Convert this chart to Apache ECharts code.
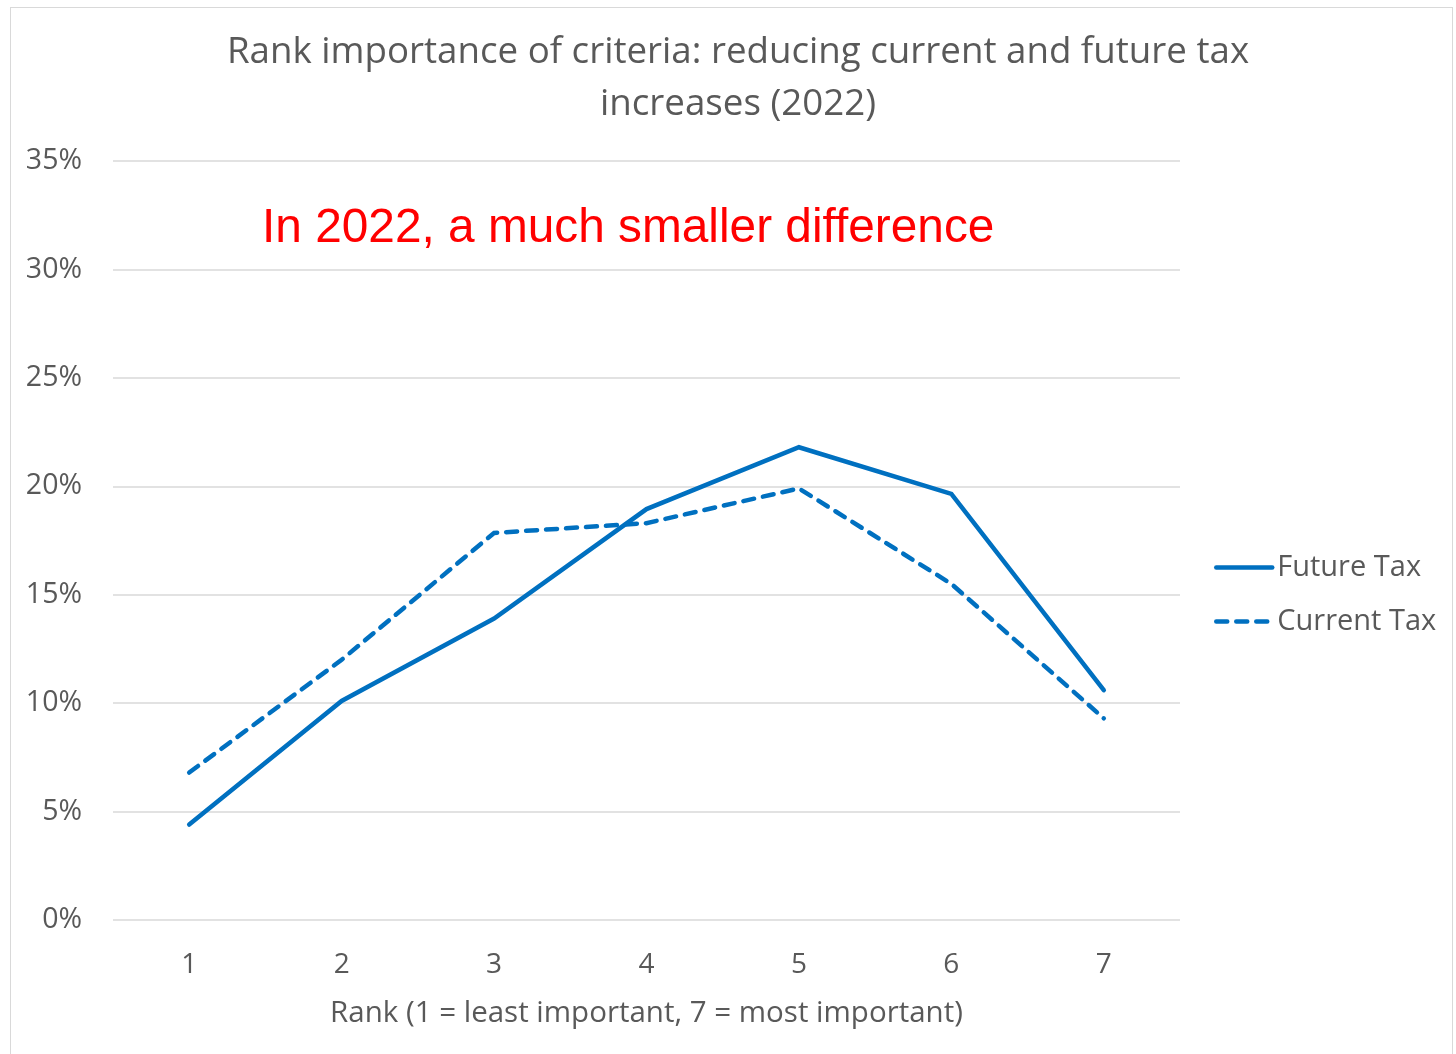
<!DOCTYPE html>
<html>
<head>
<meta charset="utf-8">
<script src="https://cdn.jsdelivr.net/npm/echarts@6/dist/echarts.min.js"></script>
<style>
  html, body { margin: 0; padding: 0; background: #fff; }
  #frame { position: absolute; left: 10px; top: 7px; width: 1443px; height: 1060px; border: 1px solid #d9d9d9; box-sizing: border-box; }
  #chart { position: absolute; left: 0; top: 0; width: 1456px; height: 1054px; }
</style>
</head>
<body>
<div id="frame"></div>
<div id="chart"></div>
<script>
// Ranks 1..7 and share of respondents choosing each rank
const ranks = ['1', '2', '3', '4', '5', '6', '7'];
const futureTax = [4.4, 10.1, 13.9, 18.95, 21.8, 19.65, 10.6];
const currentTax = [6.8, 12.0, 17.85, 18.3, 19.9, 15.5, 9.3];
const yTicks = [0, 5, 10, 15, 20, 25, 30, 35];

const FONT = '"Open Sans", "Noto Sans", sans-serif';
const GREY = '#595959';
const BLUE = '#0070C0';

const chart = echarts.init(document.getElementById('chart'), null, { renderer: 'canvas' });
chart.setOption({
  backgroundColor: 'transparent',
  animation: false,
  title: {
    text: 'Rank importance of criteria: reducing current and future tax\nincreases (2022)',
    left: 733,
    textAlign: 'center',
    top: 22,
    textStyle: { fontFamily: FONT, fontSize: 36.7, fontWeight: 'normal', color: GREY, lineHeight: 52 }
  },
  graphic: [{
    type: 'text',
    left: 262,
    top: 205,
    style: { text: 'In 2022, a much smaller difference', fontFamily: '"Liberation Sans", Arial, sans-serif', fontSize: 47.8, fill: '#ff0000' }
  }],
  legend: {
    orient: 'vertical',
    left: 1214,
    top: 553,
    padding: 0,
    itemGap: 25,
    itemWidth: 56,
    itemHeight: 4,
    lineStyle: { width: 4.5 },
    textStyle: { fontFamily: FONT, fontSize: 29, color: GREY },
    data: ['Future Tax', 'Current Tax']
  },
  grid: { left: 113, right: 276, top: 161, bottom: 134 },
  xAxis: {
    type: 'category',
    data: ranks,
    boundaryGap: true,
    axisLine: { show: false },
    axisTick: { show: false },
    axisLabel: { fontFamily: FONT, fontSize: 28, color: GREY, margin: 31 },
    name: 'Rank (1 = least important, 7 = most important)',
    nameLocation: 'middle',
    nameGap: 79,
    nameTextStyle: { fontFamily: FONT, fontSize: 29.5, color: GREY }
  },
  yAxis: {
    type: 'value',
    min: yTicks[0],
    max: yTicks[yTicks.length - 1],
    interval: 5,
    axisLine: { show: false },
    axisTick: { show: false },
    splitLine: { lineStyle: { color: '#d9d9d9', width: 1.5 } },
    axisLabel: { fontFamily: FONT, fontSize: 28.5, color: GREY, margin: 31, formatter: v => v + '%' }
  },
  series: [
    {
      name: 'Future Tax',
      type: 'line',
      data: futureTax,
      symbol: 'none',
      showSymbol: false,
      lineStyle: { color: BLUE, width: 4.5, cap: 'round', join: 'miter' },
      itemStyle: { color: BLUE }
    },
    {
      name: 'Current Tax',
      type: 'line',
      data: currentTax,
      symbol: 'none',
      showSymbol: false,
      lineStyle: { color: BLUE, width: 4.5, type: [11, 9], cap: 'round', join: 'miter' },
      itemStyle: { color: BLUE }
    }
  ]
});
</script>
</body>
</html>
